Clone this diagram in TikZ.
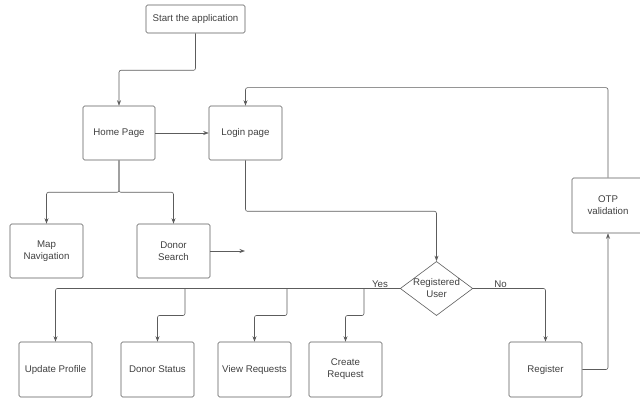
\documentclass[tikz,border=0pt]{standalone}
\usepackage{fontspec}
\setmainfont{Liberation Sans}
\usetikzlibrary{arrows.meta,positioning,shapes.geometric}
\definecolor{linegray}{HTML}{5C5C5C}
\definecolor{textgray}{HTML}{404040}
\tikzset{
>={Stealth[length=5.5pt, width=4pt]},
  punkt/.style={
    rectangle,
    rounded corners=1.5pt,
    draw=linegray, line width=0.6pt,
    text=textgray,
    font=\fontsize{9.7}{12}\selectfont,
    minimum width=73pt,
    minimum height=55pt,
    inner sep=0pt,
    align=center},
  beslutning/.style={
    diamond,
    aspect=1.34,
    draw=linegray, line width=0.6pt,
    text=textgray,
    font=\fontsize{9.7}{12}\selectfont,
    minimum width=71pt,
    minimum height=53pt,
    inner sep=0pt,
    align=center},
  line/.style={draw=linegray, line width=0.6pt, ->, rounded corners=2pt},
  svar/.style={text=textgray, font=\fontsize{9.7}{11}\selectfont, inner sep=1pt},
}

\begin{document}
\begin{tikzpicture}
  [x=1pt, y=-1pt]
  \useasboundingbox (0,0) rectangle (640,398);
  \node (start) [punkt, minimum width=99pt, minimum height=28pt] at (195.5,19) {Start the application};
  \node (home) [punkt, minimum width=72pt, minimum height=54pt] at (119,133) {Home Page};
  \node (login) [punkt, minimum width=73pt, minimum height=54pt] at (245.5,133) {Login page};
  \node (map) [punkt, minimum height=54pt] at (46.5,251) {Map\\Navigation};
  \node (search) [punkt, minimum height=54pt] at (173.5,251) {Donor\\Search};
  \coordinate (searchend) at (245,251);
  \node (user) [beslutning] at (436.5,288.5) {Registered\\User};
  \node (otp) [punkt, minimum width=72pt] at (608,205.5) {OTP\\validation};
  % bottom row
  \node (update) [punkt] at (55.5,369.5) {Update Profile};
  \node (status) [punkt] at (157.5,369.5) {Donor Status};
  \node (requests) [punkt] at (254.5,369.5) {View Requests};
  \node (create) [punkt] at (345.5,369.5) {Create\\Request};
  \node (register) [punkt] at (545.5,369.5) {Register};
  % junctions on the Yes line
  \coordinate (j1) at (185,288.5);
  \coordinate (j2) at (287,288.5);
  \coordinate (j3) at (364,288.5);

  \draw[line] (start.south) -- ++(0,37) -| (home.north);
  \draw[line] (home) -- (login);
  \draw[line] (home.south) -- ++(0,32) -| (map.north);
  \draw[line] (home.south) -- ++(0,32) -| (search.north);
  \draw[line] (search) -- (searchend);
  \draw[line] (login.south) -- ++(0,51) -| (user.north);
  \draw[line] (user.west) -| node[svar, pos=0.029, above] {Yes} (update.north);
  \draw[line] (j1) -- ++(0,27) -| (status.north);
  \draw[line] (j2) -- ++(0,27) -| (requests.north);
  \draw[line] (j3) -- ++(0,27) -| (create.north);
  \draw[line] (user.east) -| node[svar, pos=0.19, above] {No} (register.north);
  \draw[line] (register.east) -| (otp.south);
  \draw[line] (otp.north) -- ++(0,-90) -| (login.north);
\end{tikzpicture}
\end{document}
